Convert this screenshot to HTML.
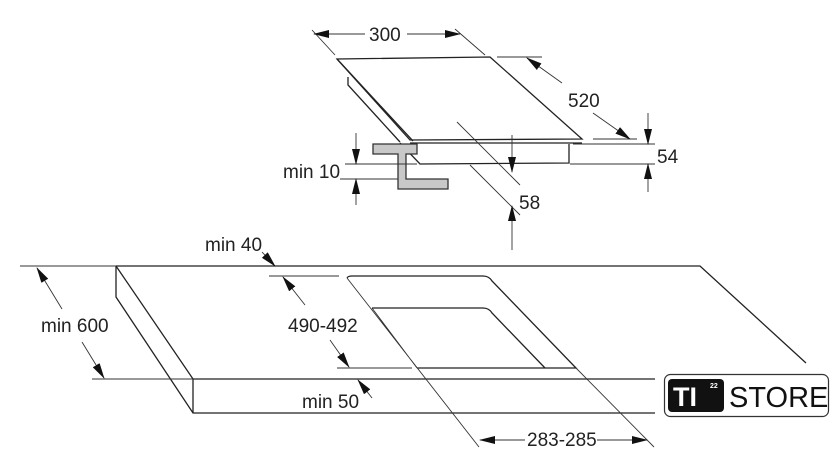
<!DOCTYPE html>
<html><head><meta charset="utf-8"><style>
html,body{margin:0;padding:0;background:#fff;}
svg{display:block}
text{font-family:"Liberation Sans",sans-serif;fill:#222;}
</style></head><body>
<svg width="840" height="475" viewBox="0 0 840 475" xmlns="http://www.w3.org/2000/svg">
<defs>
<marker id="a" markerWidth="16" markerHeight="8" refX="15" refY="4" orient="auto" markerUnits="userSpaceOnUse">
<path d="M0,0 L16,4 L0,8 Z" fill="#111"/></marker>
</defs>
<g stroke="#222" stroke-width="1.3" fill="none">
<path d="M337,59 L490,57 L582,139 L410,140 Z" fill="#fff"/>
<path d="M337,59 L413,141"/>
<path d="M410,143 L582,143"/>
<path d="M569,144 L569,163 L420,164 L400,143"/>
<path d="M348,77 L348,85 L400,142"/>
<polygon points="373,144 417,144 417,154 406,154 406,179 448,179 448,189 398,189 398,154 373,154" fill="#c8c8c8" stroke="#333"/>
</g>
<g stroke="#333" stroke-width="0.9" fill="none">
<path d="M312,30 L335,55 M455,29 L485,55"/>
<line x1="365" y1="34" x2="314" y2="34" marker-end="url(#a)"/>
<line x1="407" y1="34" x2="460" y2="34" marker-end="url(#a)"/>
<path d="M497,57 L542,57 M593,139 L637,139"/>
<line x1="562" y1="83" x2="527" y2="58" marker-end="url(#a)"/>
<line x1="593" y1="113" x2="630" y2="139" marker-end="url(#a)"/>
<path d="M573,144 L655,144 M570,164 L655,164"/>
<line x1="648" y1="113" x2="648" y2="144" marker-end="url(#a)"/>
<line x1="648" y1="192" x2="648" y2="164" marker-end="url(#a)"/>
<path d="M457,122 L520,185 M470,165 L520,215"/>
<line x1="512" y1="135" x2="512" y2="172" marker-end="url(#a)"/>
<line x1="512" y1="250" x2="512" y2="206" marker-end="url(#a)"/>
<path d="M345,164 L417,164 M340,179 L398,179"/>
<line x1="356" y1="133" x2="356" y2="164" marker-end="url(#a)"/>
<line x1="356" y1="205" x2="356" y2="179" marker-end="url(#a)"/>
</g>
<g stroke="#222" stroke-width="1.3" fill="none">
<path d="M116,266 L700,266 L806,363"/>
<path d="M116,266 L116,297 L193,413 L655,413"/>
<path d="M116,266 L193,379 L655,379 M193,379 L193,413"/>
<path d="M347,278 Q348,276 352,276 L483,276 Q489,276 492,281 L576,368 L417,368"/>
<path d="M372,308 L483,308 Q489,308 492,313 L545,368"/>
</g>
<g stroke="#333" stroke-width="0.9" fill="none">
<path d="M347,278 L479,447 M372,308 L417,368 M576,368 L654,447"/>
<path d="M20,266 L116,266 M92,379 L193,379 M269,276 L339,276 M337,368 L412,368"/>
<line x1="62" y1="309" x2="37" y2="268" marker-end="url(#a)"/>
<line x1="82" y1="342" x2="104" y2="378" marker-end="url(#a)"/>
<line x1="305" y1="305" x2="283" y2="277" marker-end="url(#a)"/>
<line x1="330" y1="340" x2="349" y2="367" marker-end="url(#a)"/>
<line x1="262" y1="252" x2="275" y2="266" marker-end="url(#a)"/>
<line x1="372" y1="398" x2="358" y2="380" marker-end="url(#a)"/>
<line x1="525" y1="440" x2="480" y2="440" marker-end="url(#a)"/>
<line x1="597" y1="440" x2="647" y2="440" marker-end="url(#a)"/>
</g>
<g font-size="19">
<text x="369" y="41">300</text>
<text x="568" y="107">520</text>
<text x="657" y="163">54</text>
<text x="519" y="209">58</text>
<text x="283" y="178">min 10</text>
<text x="205" y="251">min 40</text>
<text x="41" y="332">min 600</text>
<text x="288" y="332">490-492</text>
<text x="302" y="408">min 50</text>
<text x="527" y="446">283-285</text>
</g>
<rect x="664.5" y="374.5" width="164" height="42" rx="6" fill="#fff" stroke="#333" stroke-width="1.2"/>
<rect x="668" y="379" width="56" height="33" rx="4" fill="#111"/>
<text x="673" y="406" font-size="27" font-weight="bold" style="fill:#fff">TI</text>
<text x="710" y="388" font-size="7" font-weight="bold" style="fill:#fff">22</text>
<text x="729" y="407" font-size="29" style="fill:#111">STORE</text>
</svg>
</body></html>
